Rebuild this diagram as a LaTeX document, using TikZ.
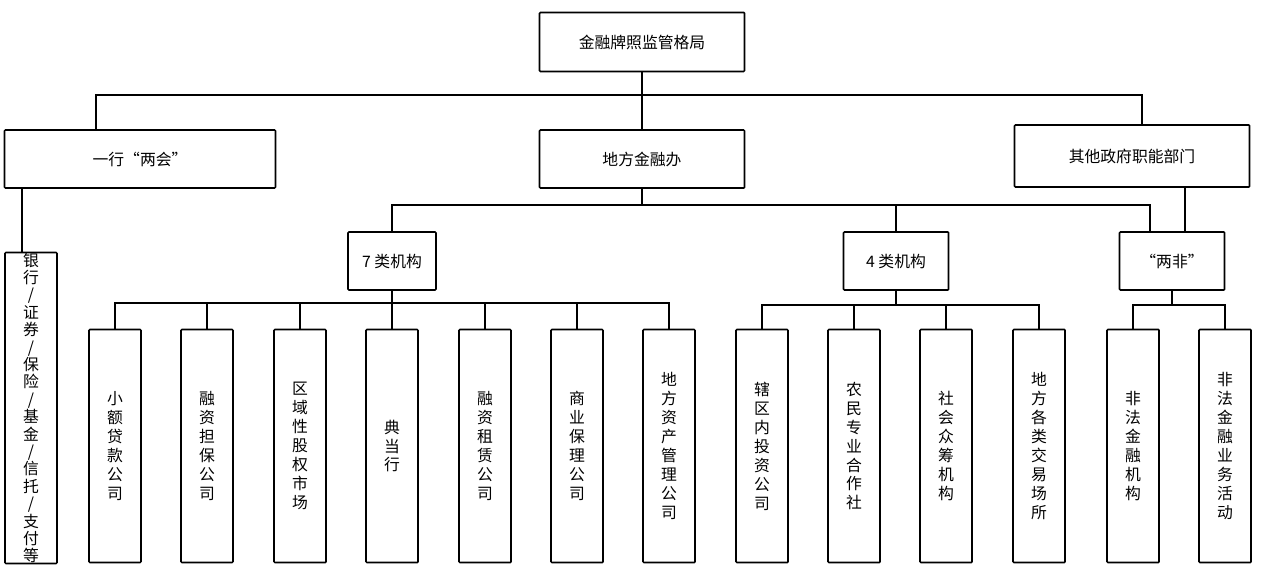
\documentclass[tikz,border=0pt]{standalone}
\usepackage{fontspec}
\setmainfont{Noto Sans CJK SC}
\tikzset{
  box/.style={draw, line width=0.9pt, rounded corners=0.5pt, inner sep=0pt, font=\fontsize{9pt}{11pt}\selectfont},
  vbox/.style={box, minimum width=52*0.02cm, minimum height=233*0.02cm, align=center, font=\fontsize{9pt}{10.8pt}\selectfont},
  link/.style={line width=0.9pt}
}
\begin{document}
\begin{tikzpicture}[x=0.02cm, y=-0.02cm]
  \useasboundingbox (0,0) rectangle (1264,588);
  %top levels
  \node[box, minimum width=205*0.02cm, minimum height=59*0.02cm] (top) at (642,42) {金融牌照监管格局};
  \node[box, minimum width=271*0.02cm, minimum height=58*0.02cm] (hang) at (140,159) {一行“两会”};
  \node[box, minimum width=205*0.02cm, minimum height=58*0.02cm] (jrb) at (642,159) {地方金融办};
  \node[box, minimum width=235*0.02cm, minimum height=62*0.02cm] (qt) at (1132,156) {其他政府职能部门};
  \draw[link] (top.south) |- (96,95) -- (hang.north -| 96,0);
  \draw[link] (top.south) |- (1142,95) -- (qt.north -| 1142,0);
  \draw[link] (top.south) -- (jrb.north);

  %second level
  \node[box, minimum width=88*0.02cm, minimum height=58*0.02cm] (q7) at (392,261) {7 类机构};
  \node[box, minimum width=105*0.02cm, minimum height=58*0.02cm] (q4) at (896,261) {4 类机构};
  \node[box, minimum width=105*0.02cm, minimum height=58*0.02cm] (lf) at (1172,261) {“两非”};
  \draw[link] (jrb.south) |- (392,205) -- (q7.north);
  \draw[link] (jrb.south) |- (1150,205) -- (lf.north -| 1150,0);
  \draw[link] (896,205) -- (q4.north);
  \draw[link] (qt.south -| 1185,0) -- (lf.north -| 1185,0);

  \node[vbox, minimum height=311*0.02cm, font=\fontsize{9pt}{9.9pt}\selectfont] (yh) at (31,408) {银\\行\\/\\证\\券\\/\\保\\险\\/\\基\\金\\/\\信\\托\\/\\支\\付\\等};
  \draw[link] (hang.south -| 22,0) -- (yh.north -| 22,0);

  %bottom boxes
  \node[vbox] (a1) at (115,446) {小\\额\\贷\\款\\公\\司};
  \node[vbox] (a2) at (207,446) {融\\资\\担\\保\\公\\司};
  \node[vbox] (a3) at (300,446) {区\\域\\性\\股\\权\\市\\场};
  \node[vbox] (a4) at (392,446) {典\\当\\行};
  \node[vbox] (a5) at (485,446) {融\\资\\租\\赁\\公\\司};
  \node[vbox] (a6) at (577,446) {商\\业\\保\\理\\公\\司};
  \node[vbox] (a7) at (669,446) {地\\方\\资\\产\\管\\理\\公\\司};
  \node[vbox] (b1) at (762,446) {辖\\区\\内\\投\\资\\公\\司};
  \node[vbox] (b2) at (854,446) {农\\民\\专\\业\\合\\作\\社};
  \node[vbox] (b3) at (946,446) {社\\会\\众\\筹\\机\\构};
  \node[vbox] (b4) at (1039,446) {地\\方\\各\\类\\交\\易\\场\\所};
  \node[vbox] (c1) at (1133,446) {非\\法\\金\\融\\机\\构};
  \node[vbox] (c2) at (1225,446) {非\\法\\金\\融\\业\\务\\活\\动};

  \foreach \n in {a1,a2,a3,a4,a5,a6,a7}
    \draw[link] (q7.south) -- (392,303) -| (\n.north);
  \foreach \n in {b1,b2,b3,b4}
    \draw[link] (q4.south) -- (896,305) -| (\n.north);
  \foreach \n in {c1,c2}
    \draw[link] (lf.south) -- (1172,305) -| (\n.north);
\end{tikzpicture}
\end{document}
